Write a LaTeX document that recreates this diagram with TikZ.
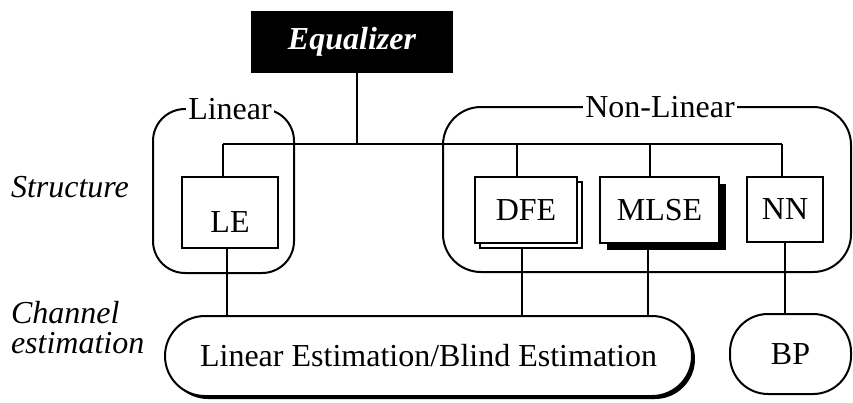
\documentclass[tikz,border=0pt]{standalone}
\usepackage{fontspec}
\setmainfont{Liberation Serif}
\usetikzlibrary{shadows}
\begin{document}
\begin{tikzpicture}[x=1pt,y=-1pt,line width=2pt,
  txt/.style={font=\fontsize{32}{30}\selectfont},
  box/.style={draw,fill=white,rectangle,inner sep=0pt,txt},
  group/.style={draw,rectangle,inner sep=0pt},
  grplabel/.style={fill=white,inner xsep=2pt,inner ysep=1pt,txt},
  pill/.style={draw,fill=white,rectangle,inner sep=0pt,txt}]
\useasboundingbox (0,0) rectangle (853,402);
% groups
\node[group,rounded corners=32pt,minimum width=141pt,minimum height=164pt] (lin) at (223.5,191) {};
\node[group,rounded corners=38pt,minimum width=408pt,minimum height=165pt] (nonlin) at (647,189.5) {};
\node[grplabel] (linlab) at (230,109) {Linear};
\node[grplabel] (nonlinlab) at (660,107) {Non-Linear};
% top
\node[draw,fill=black,text=white,inner sep=0pt,minimum width=200pt,minimum height=60pt,
  font=\fontsize{32}{30}\selectfont\bfseries\itshape] (eq) at (352,42) {Equalizer};
% structure boxes
\node[box,minimum width=96pt,minimum height=71pt,label={[txt,yshift=-10pt]center:LE}] (le) at (230,212.5) {};
\node[box,minimum width=102pt,minimum height=66pt,
  copy shadow={shadow xshift=5pt,shadow yshift=-5pt}] (dfe) at (526,210) {DFE};
\node[box,minimum width=119pt,minimum height=66pt,
  drop shadow={shadow xshift=7pt,shadow yshift=-7pt,fill=black,opacity=1}] (mlse) at (659.5,210) {MLSE};
\node[box,minimum width=76pt,minimum height=65pt] (nn) at (785,209.5) {NN};
% estimation
\node[pill,rounded corners=40pt,minimum width=527pt,minimum height=80pt,
  drop shadow={shadow xshift=3pt,shadow yshift=-3pt,fill=black,opacity=1}] (est) at (428.5,356) {Linear Estimation/Blind Estimation};
\node[pill,rounded corners=38pt,minimum width=121pt,minimum height=80pt] (bp) at (790.5,354) {BP};
% side labels
\node[txt,font=\fontsize{32}{30}\selectfont\itshape,anchor=base west,inner sep=0pt] (struct) at (10,197) {Structure};
\node[txt,font=\fontsize{32}{30}\selectfont\itshape,anchor=base west,inner sep=0pt,align=left] (chan) at (10,353) {Channel\\estimation};
% connectors
\coordinate (bEq) at (357,144);
\coordinate (bLE) at (223,144);
\coordinate (bDFE) at (517,144);
\coordinate (bMLSE) at (650,144);
\coordinate (bNN) at (782,144);
\draw (eq.south -| bEq) -- (bEq);
\draw (bLE) -- (bNN);
\draw (bLE) -- (bLE |- le.north);
\draw (bDFE) -- (bDFE |- dfe.north);
\draw (bMLSE) -- (bMLSE |- mlse.north);
\draw (bNN) -- (bNN |- nn.north);
\coordinate (dLE) at (227,248);
\coordinate (dDFE) at (522,248);
\coordinate (dMLSE) at (648,250);
\coordinate (dNN) at (785,242);
\draw (dLE) -- (dLE |- est.north);
\draw (dDFE) -- (dDFE |- est.north);
\draw (dMLSE) -- (dMLSE |- est.north);
\draw (dNN) -- (dNN |- bp.north);
\end{tikzpicture}
\end{document}
